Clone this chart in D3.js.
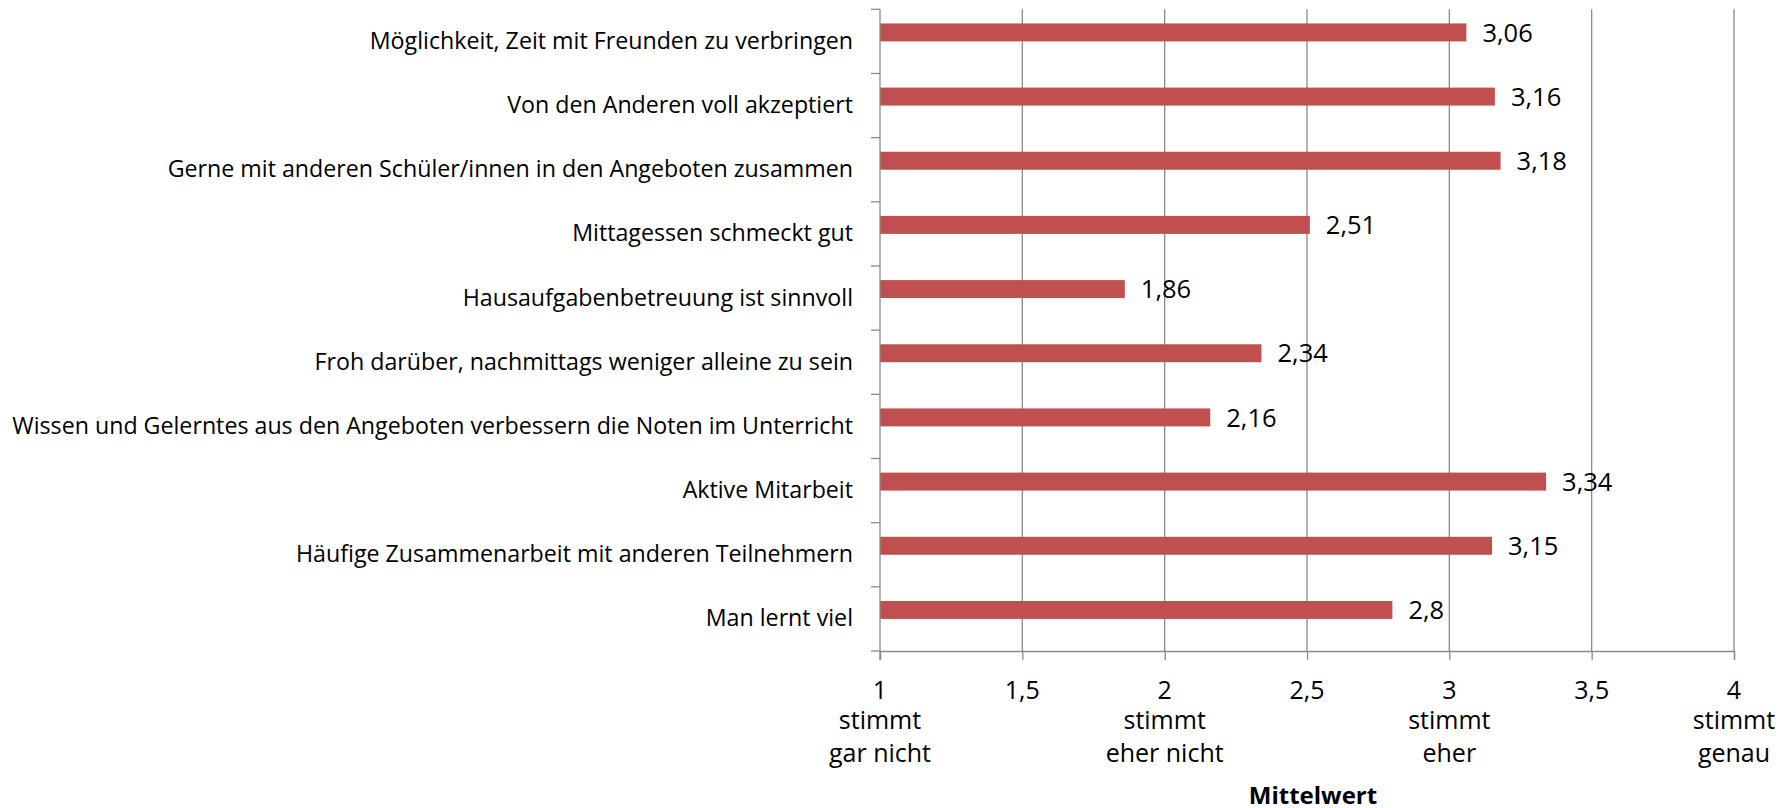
<!DOCTYPE html>
<html>
<head>
<meta charset="utf-8">
<script src="https://cdn.jsdelivr.net/npm/d3@7"></script>
<style>
  html, body { margin: 0; padding: 0; background: #fff; }
  svg { display: block; }
  text { font-family: "Open Sans", "Noto Sans", sans-serif; fill: #000; }
</style>
</head>
<body>
<svg id="chart" width="1792" height="808"></svg>
<script>
// Survey items (top to bottom) and their mean ratings on a 1–4 scale
const categories = [
  "Möglichkeit, Zeit mit Freunden zu verbringen",
  "Von den Anderen voll akzeptiert",
  "Gerne mit anderen Schüler/innen in den Angeboten zusammen",
  "Mittagessen schmeckt gut",
  "Hausaufgabenbetreuung ist sinnvoll",
  "Froh darüber, nachmittags weniger alleine zu sein",
  "Wissen und Gelerntes aus den Angeboten verbessern die Noten im Unterricht",
  "Aktive Mitarbeit",
  "Häufige Zusammenarbeit mit anderen Teilnehmern",
  "Man lernt viel"
];
const means = [3.06, 3.16, 3.18, 2.51, 1.86, 2.34, 2.16, 3.34, 3.15, 2.8];

// Scale ticks and their verbal anchors
const xTicks = [1, 1.5, 2, 2.5, 3, 3.5, 4];
const xTickText = ["1", "1,5", "2", "2,5", "3", "3,5", "4"];
const xTickDesc = [["stimmt", "gar nicht"], [], ["stimmt", "eher nicht"], [], ["stimmt", "eher"], [], ["stimmt", "genau"]];
const axisTitle = "Mittelwert";

const fmt = v => String(v).replace(".", ",");

const svg = d3.select("#chart");
const plot = { left: 880, right: 1734, top: 9.3, bottom: 651 };
const gridColor = "#8a8a8a";
const barColor = "#C0504D";

const x = d3.scaleLinear().domain([1, 4]).range([plot.left, plot.right]);
const y = d3.scaleBand().domain(categories).range([plot.top, plot.bottom]).paddingInner(0).paddingOuter(0);
const barH = y.bandwidth() * 0.28;

// Vertical gridlines
svg.append("g")
  .selectAll("line")
  .data(xTicks.slice(1))
  .join("line")
  .attr("x1", d => x(d)).attr("x2", d => x(d))
  .attr("y1", plot.top).attr("y2", plot.bottom)
  .attr("stroke", gridColor).attr("stroke-width", 1.3);

// Bars: first series slot of each category band
svg.append("g")
  .selectAll("rect")
  .data(categories)
  .join("rect")
  .attr("x", x(1))
  .attr("y", (c) => y(c) + y.bandwidth() / 2 - barH)
  .attr("width", (c, i) => x(means[i]) - x(1))
  .attr("height", barH)
  .attr("fill", barColor);

// Value labels
svg.append("g")
  .selectAll("text")
  .data(categories)
  .join("text")
  .attr("x", (c, i) => x(means[i]) + 16)
  .attr("y", c => y(c) + y.bandwidth() / 2 - barH / 2)
  .attr("dy", "0.36em")
  .style("font-size", "25.5px")
  .text((c, i) => fmt(means[i]));

// X axis
const xAxis = d3.axisBottom(x).tickValues(xTicks).tickSize(9).tickFormat("");
const gx = svg.append("g").attr("transform", `translate(0,${plot.bottom})`).call(xAxis);
gx.select(".domain").attr("stroke", gridColor).attr("stroke-width", 1.3);
gx.selectAll(".tick line").attr("stroke", gridColor).attr("stroke-width", 1.3);

const tickLabels = svg.append("g").selectAll("text")
  .data(xTicks)
  .join("text")
  .attr("text-anchor", "middle")
  .style("font-size", "25px");
const lineY = [699, 729, 762];
tickLabels.each(function (d, i) {
  const t = d3.select(this);
  const lines = [xTickText[i]].concat(xTickDesc[i]);
  lines.forEach((s, k) => {
    t.append("tspan").attr("x", x(d)).attr("y", lineY[k]).text(s);
  });
});

// Axis title
svg.append("text")
  .attr("x", (plot.left + plot.right) / 2 + 6)
  .attr("y", 804)
  .attr("text-anchor", "middle")
  .style("font-size", "24px")
  .style("font-weight", "bold")
  .text(axisTitle);

// Y axis: labels centered in bands, ticks at band boundaries
const yAxis = d3.axisLeft(y).tickSize(0).tickPadding(27);
const gy = svg.append("g").attr("transform", `translate(${plot.left},0)`).call(yAxis);
gy.select(".domain").remove();
gy.selectAll(".tick text").style("font-size", "23px").attr("fill", "#000");

// Fit category label size so the longest item spans its measured width
const nodes = gy.selectAll(".tick text").nodes();
const longest = d3.max(nodes, n => n.getComputedTextLength());
const fitted = 23 * 841 / longest;
gy.selectAll(".tick text").style("font-size", fitted.toFixed(2) + "px");

const bounds = categories.map(c => y(c)).concat([plot.bottom]);
svg.append("g").selectAll("line")
  .data(bounds)
  .join("line")
  .attr("x1", plot.left - 9).attr("x2", plot.left)
  .attr("y1", d => d).attr("y2", d => d)
  .attr("stroke", gridColor).attr("stroke-width", 1.3);
svg.append("line")
  .attr("x1", plot.left).attr("x2", plot.left)
  .attr("y1", plot.top).attr("y2", plot.bottom + 9)
  .attr("stroke", gridColor).attr("stroke-width", 1.3);
</script>
</body>
</html>
